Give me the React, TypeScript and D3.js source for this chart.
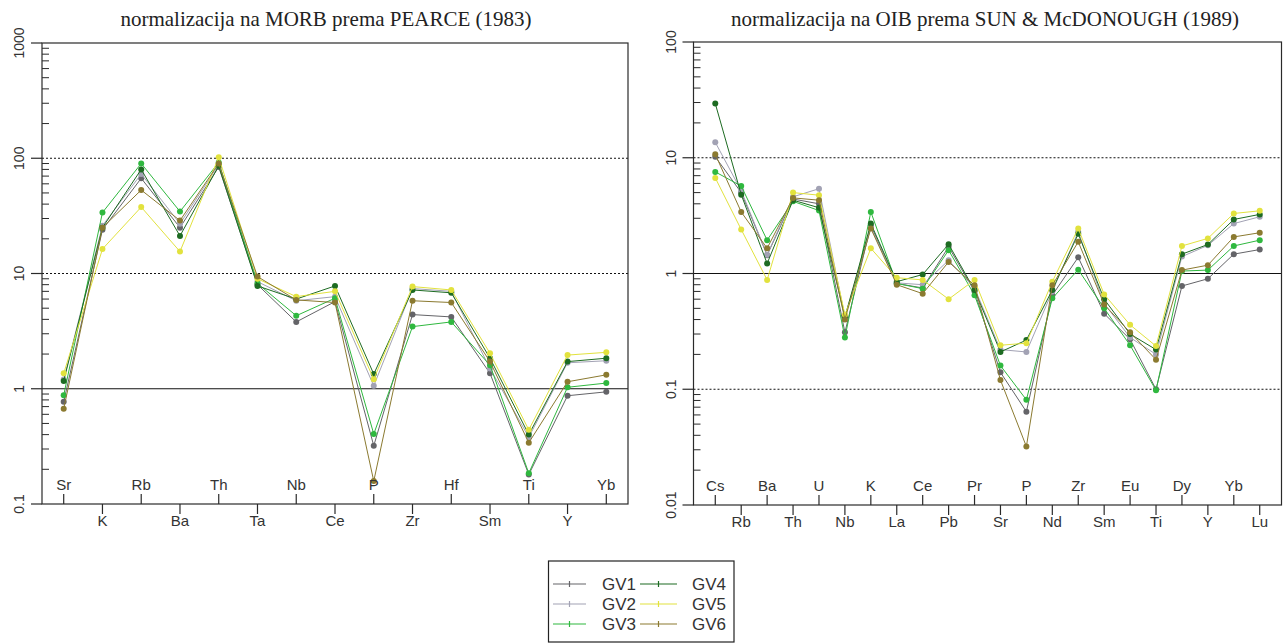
import React from "react";
import * as d3 from "d3";

const seriesNames = ["GV1", "GV2", "GV3", "GV4", "GV5", "GV6"];
const seriesColors = ["#646468", "#a2a2b4", "#2fb83f", "#1d6b22", "#e2e23e", "#8b7a30"];

const morbCats = ["Sr", "K", "Rb", "Ba", "Th", "Ta", "Nb", "Ce", "P", "Zr", "Hf", "Sm", "Ti", "Y", "Yb"];
const morbGV1 = [0.77, 24, 67, 25, 84, 8.0, 3.8, 5.7, 0.32, 4.4, 4.2, 1.36, 0.18, 0.87, 0.94];
const morbGV2 = [1.2, 26, 73, 27, 88, 8.5, 5.8, 6.3, 1.06, 7.4, 7.0, 1.5, 0.38, 1.68, 1.75];
const morbGV3 = [0.88, 33.8, 90, 34.5, 92, 8.2, 4.3, 6.1, 0.405, 3.46, 3.8, 1.6, 0.185, 1.03, 1.12];
const morbGV4 = [1.17, 25, 80, 21.2, 86, 7.8, 6.0, 7.8, 1.34, 7.2, 6.8, 1.84, 0.4, 1.72, 1.84];
const morbGV5 = [1.36, 16.3, 37.7, 15.5, 102, 9.0, 6.3, 7.0, 1.21, 7.7, 7.2, 2.03, 0.44, 1.96, 2.07];
const morbGV6 = [0.67, 25, 53, 28.8, 90, 9.4, 5.9, 5.6, 0.158, 5.8, 5.6, 1.72, 0.34, 1.15, 1.32];

const oibCats = ["Cs", "Rb", "Ba", "Th", "U", "Nb", "K", "La", "Ce", "Pb", "Pr", "Sr", "P", "Nd", "Zr", "Sm", "Eu", "Ti", "Dy", "Y", "Yb", "Lu"];
const oibGV1 = [10.2, 5.0, 1.44, 4.4, 4.0, 0.31, 2.6, 0.82, 0.75, 1.7, 0.7, 0.14, 0.064, 0.65, 1.38, 0.45, 0.27, 0.1, 0.78, 0.9, 1.47, 1.61];
const oibGV2 = [13.6, 5.2, 1.45, 4.6, 5.4, 0.42, 2.5, 0.83, 0.8, 1.3, 0.75, 0.22, 0.21, 0.7, 2.3, 0.55, 0.28, 0.2, 1.4, 1.75, 2.7, 3.09];
const oibGV3 = [7.55, 5.7, 1.94, 4.2, 3.5, 0.28, 3.4, 0.82, 0.74, 1.59, 0.65, 0.16, 0.081, 0.61, 1.08, 0.5, 0.24, 0.098, 1.05, 1.07, 1.73, 1.94];
const oibGV4 = [29.4, 4.8, 1.22, 4.3, 3.7, 0.42, 2.7, 0.85, 0.98, 1.79, 0.72, 0.21, 0.266, 0.72, 2.2, 0.6, 0.3, 0.22, 1.47, 1.78, 2.93, 3.24];
const oibGV5 = [6.7, 2.4, 0.88, 5.0, 4.75, 0.44, 1.65, 0.92, 0.88, 0.6, 0.88, 0.24, 0.25, 0.85, 2.45, 0.66, 0.36, 0.236, 1.73, 2.01, 3.3, 3.48];
const oibGV6 = [10.7, 3.4, 1.65, 4.5, 4.3, 0.4, 2.45, 0.8, 0.67, 1.26, 0.79, 0.12, 0.032, 0.79, 1.88, 0.54, 0.31, 0.18, 1.07, 1.18, 2.07, 2.25];

const morbTicks = [0.1, 1, 10, 100, 1000];
const oibTicks = [0.01, 0.1, 1, 10, 100];

const morbSeries = [morbGV1, morbGV2, morbGV3, morbGV4, morbGV5, morbGV6];
const oibSeries = [oibGV1, oibGV2, oibGV3, oibGV4, oibGV5, oibGV6];

type PanelProps = {
  title: string;
  titleX: number;
  cats: string[];
  series: number[][];
  ticks: number[];
  x0: number;
  x1: number;
  yTop: number;
  yBot: number;
  dotted: number[];
  solid: number[];
};

function Panel(p: PanelProps) {
  const n = p.cats.length;
  const ext = (n - 1) * 0.04;
  const x = d3.scaleLinear().domain([-ext, n - 1 + ext]).range([p.x0, p.x1]);
  const y = d3
    .scaleLog()
    .domain([p.ticks[0], p.ticks[p.ticks.length - 1]])
    .range([p.yBot, p.yTop]);
  const minor: number[] = [];
  for (let i = 0; i < p.ticks.length - 1; i++) {
    for (let k = 2; k <= 9; k++) minor.push(p.ticks[i] * k);
  }
  const line = d3
    .line<number>()
    .x((_, i) => x(i))
    .y((v) => y(v));
  const axisColor = "#2a2a2a";
  const textColor = "#333";
  return (
    <g>
      <text
        x={p.titleX}
        y={26}
        textAnchor="middle"
        fontFamily="'Liberation Serif', 'Times New Roman', serif"
        fontSize={21}
        fill="#222"
      >
        {p.title}
      </text>
      {p.dotted.map((v) => (
        <line key={"d" + v} x1={p.x0} x2={p.x1} y1={y(v)} y2={y(v)} stroke="#111" strokeWidth={1.2} strokeDasharray="2,2" />
      ))}
      {p.solid.map((v) => (
        <line key={"s" + v} x1={p.x0} x2={p.x1} y1={y(v)} y2={y(v)} stroke="#111" strokeWidth={1.2} />
      ))}
      {p.series.map((vals, si) => (
        <g key={si}>
          <path d={line(vals) || ""} fill="none" stroke={seriesColors[si]} strokeWidth={1} />
          {vals.map((v, i) => (
            <circle key={i} cx={x(i)} cy={y(v)} r={3} fill={seriesColors[si]} />
          ))}
        </g>
      ))}
      <rect x={p.x0} y={p.yTop} width={p.x1 - p.x0} height={p.yBot - p.yTop} fill="none" stroke={axisColor} strokeWidth={1.2} />
      {p.ticks.map((t) => (
        <g key={"t" + t}>
          <line x1={p.x0 - 11} x2={p.x0} y1={y(t)} y2={y(t)} stroke={axisColor} strokeWidth={1.2} />
          <text
            transform={`translate(${p.x0 - 18},${y(t)}) rotate(-90)`}
            textAnchor="middle"
            fontFamily="'Liberation Sans', Arial, sans-serif"
            fontSize={14}
            fill={textColor}
          >
            {String(t)}
          </text>
        </g>
      ))}
      {minor.map((t) => (
        <line key={"m" + t} x1={p.x0} x2={p.x0 + 7} y1={y(t)} y2={y(t)} stroke={axisColor} strokeWidth={1} />
      ))}
      {p.cats.map((c, i) => {
        const up = i % 2 === 0;
        return (
          <g key={c + i}>
            <line
              x1={x(i)}
              x2={x(i)}
              y1={p.yBot}
              y2={up ? p.yBot - 10 : p.yBot + 10}
              stroke={axisColor}
              strokeWidth={1.2}
            />
            <text
              x={x(i)}
              y={up ? p.yBot - 14 : p.yBot + 22}
              textAnchor="middle"
              fontFamily="'Liberation Sans', Arial, sans-serif"
              fontSize={15}
              fill={textColor}
            >
              {c}
            </text>
          </g>
        );
      })}
    </g>
  );
}

function Legend() {
  const bx = 548.5;
  const by = 561;
  const rowsY = [584, 604, 624];
  const cols = [
    { lx0: 553, lx1: 586, tx: 602 },
    { lx0: 640, lx1: 677, tx: 692 },
  ];
  return (
    <g>
      <rect x={bx} y={by} width={185.5} height={81} fill="white" stroke="#222" strokeWidth={1.2} />
      {seriesNames.map((name, i) => {
        const col = cols[Math.floor(i / 3)];
        const yy = rowsY[i % 3];
        const mid = (col.lx0 + col.lx1) / 2;
        return (
          <g key={name}>
            <line x1={col.lx0} x2={col.lx1} y1={yy} y2={yy} stroke={seriesColors[i]} strokeWidth={1.2} />
            <line x1={mid} x2={mid} y1={yy - 3} y2={yy + 3} stroke={seriesColors[i]} strokeWidth={1.2} />
            <text
              x={col.tx}
              y={yy + 6}
              fontFamily="'Liberation Sans', Arial, sans-serif"
              fontSize={17}
              fill="#333"
            >
              {name}
            </text>
          </g>
        );
      })}
    </g>
  );
}

export default function App() {
  return (
    <svg
      width={1283}
      height={644}
      style={{ position: "absolute", left: 0, top: 0, background: "white" }}
    >
      <rect x={0} y={0} width={1283} height={644} fill="white" />
      <Panel
        title="normalizacija na MORB prema PEARCE (1983)"
        titleX={326}
        cats={morbCats}
        series={morbSeries}
        ticks={morbTicks}
        x0={42}
        x1={628}
        yTop={43}
        yBot={504}
        dotted={[100, 10]}
        solid={[1]}
      />
      <Panel
        title="normalizacija na OIB prema SUN & McDONOUGH (1989)"
        titleX={985}
        cats={oibCats}
        series={oibSeries}
        ticks={oibTicks}
        x0={693.5}
        x1={1281.5}
        yTop={42}
        yBot={505}
        dotted={[10, 0.1]}
        solid={[1]}
      />
      <Legend />
    </svg>
  );
}
